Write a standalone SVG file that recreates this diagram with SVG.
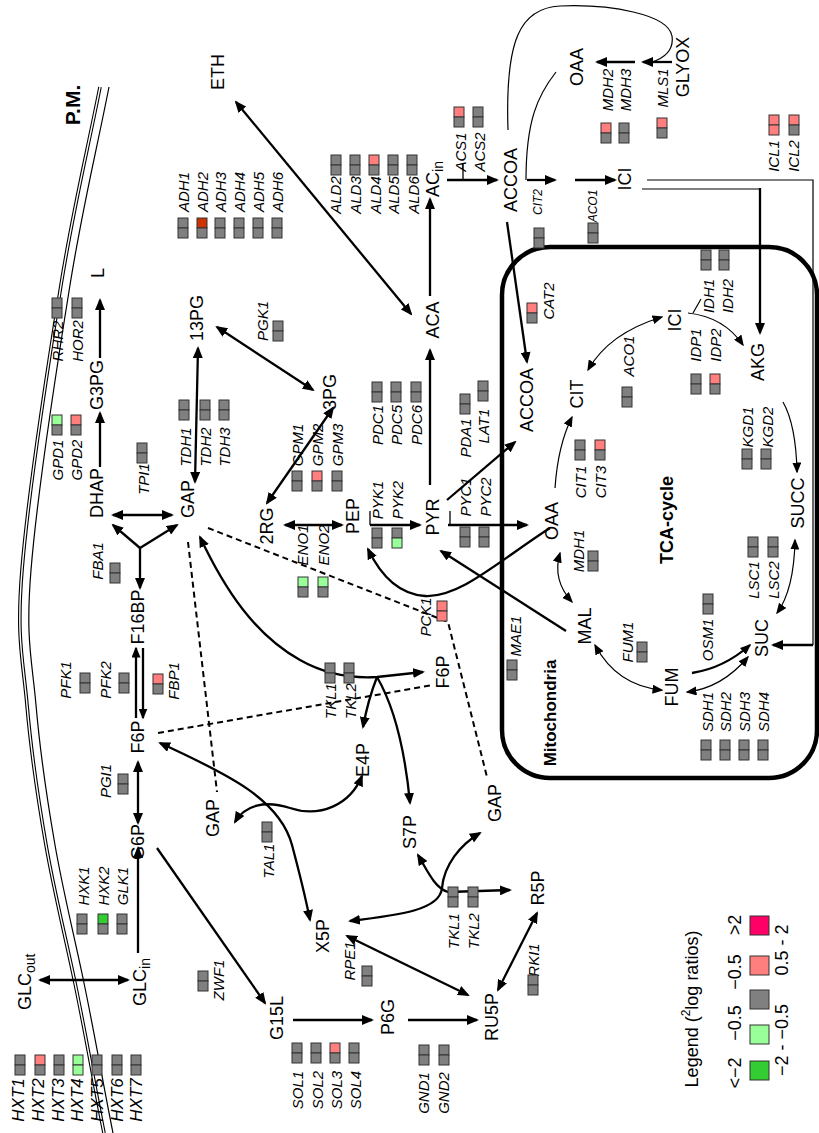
<svg xmlns="http://www.w3.org/2000/svg" width="819" height="1133" viewBox="0 0 819 1133">
<defs>
<style>
text{font-family:"Liberation Sans",Arial,sans-serif;text-anchor:middle;dominant-baseline:central;fill:#000}
.m{font-size:18px}
.g{font-size:15px;font-style:italic}
.gs{font-size:12px;font-style:italic}
.gh{font-size:17px;font-style:italic}
.bd{font-weight:bold}
.e{fill:none;stroke:#000;stroke-width:2.3}
.t{fill:none;stroke:#000;stroke-width:1.2}
.tk{fill:none;stroke:#000;stroke-width:1.3}
.d{fill:none;stroke:#000;stroke-width:2;stroke-dasharray:6 4}
.a1{marker-end:url(#ah)}
.a2{marker-start:url(#ah);marker-end:url(#ah)}
.a0{marker-start:url(#ah)}
.s1{marker-end:url(#as)}
.s2{marker-start:url(#as);marker-end:url(#as)}
.gy{fill:#808080;stroke:#333;stroke-width:1}
.pk{fill:#ff7f7f;stroke:#333;stroke-width:1}
.lg{fill:#99ff99;stroke:#333;stroke-width:1}
.dg{fill:#33cc33;stroke:#333;stroke-width:1}
.rd{fill:#cc3300;stroke:#333;stroke-width:1}
.mg{fill:#ff0066;stroke:#333;stroke-width:1}
</style>
<marker id="ah" viewBox="0 0 12 10" refX="10" refY="5" markerWidth="12" markerHeight="10" markerUnits="userSpaceOnUse" orient="auto-start-reverse"><path d="M0,0L12,5L0,10z"/></marker>
<marker id="as" viewBox="0 0 11 9" refX="9.5" refY="4.5" markerWidth="11" markerHeight="9" markerUnits="userSpaceOnUse" orient="auto-start-reverse"><path d="M0,0L11,4.5L0,9z"/></marker>
<path id="mem" d="M100,87 C87,153 74,204.5 61,285 C48,365.5 27.7,500 22,570 C16.3,640 23,659 27,705 C31,751 38,799 46,845 C54,891 65,935 75,983 C85,1031 94,1083 104,1133"/>
</defs>
<rect width="819" height="1133" fill="#fff"/>

<g id="membrane">
<use href="#mem" fill="none" stroke="#000" stroke-width="3.6"/>
<use href="#mem" fill="none" stroke="#fff" stroke-width="1.4"/>
<use href="#mem" fill="none" stroke="#000" stroke-width="1.2" transform="translate(9,0)"/>
<text class="bd" style="font-size:21px" transform="translate(72,105) rotate(-90)">P.M.</text>
</g>

<g id="mitochondria">
<rect x="502" y="247" width="315" height="531" rx="48" fill="none" stroke="#000" stroke-width="4.5"/>
<text class="bd" style="font-size:17px" transform="translate(550,713) rotate(-90)">Mitochondria</text>
<text class="bd" style="font-size:18px" transform="translate(667,520) rotate(-90)">TCA-cycle</text>
</g>

<g id="connectors">
<path class="e a2" d="M236,102 L411,314"/>
<path class="e a1" d="M430,296 V199"/>
<path class="e a1" d="M447,180 H497"/>
<path class="tk" d="M463,164 V180"/>
<path class="e a1" d="M527,180 H555"/>
<path class="e a1" d="M575,180 H615"/>
<path class="t" d="M508,130 C505,40 520,8 560,6 C610,4 668,14 672,36 C674,50 664,58 652,62"/>
<path class="t" d="M526,180 C526,120 538,95 556,72"/>
<path class="e a1" d="M672,62 H643"/>
<path class="e a1" d="M635,62 H597"/>
<path class="t" d="M642,189 H760"/>
<path class="e a1" d="M760,188 V333"/>
<path class="t" d="M647,180 H813 V645"/>
<path class="e a1" d="M813,645 H773"/>
<path class="e a1" d="M430,485 V350"/>
<path class="e a1" d="M447,500 L515,442"/>
<path class="e a1" d="M507,222 L527,362"/>
<path class="e a2" d="M195,482 L198,348"/>
<path class="e a2" d="M113,515 H172"/>
<path class="e a1" d="M100,467 V413"/>
<path class="e a1" d="M100,358 V300"/>
<path class="e a0" d="M140,588 V548"/>
<path class="e a1" d="M140,548 L113,525"/>
<path class="e a1" d="M140,548 L177,525"/>
<path class="e s1" d="M136,718 V648"/>
<path class="e s1" d="M143,648 V718"/>
<path class="e a2" d="M138,762 V823"/>
<path class="e a1" d="M138,953 V848"/>
<path class="e a2" d="M40,980 H128"/>
<path class="e a1" d="M157,848 L265,1003"/>
<path class="e a1" d="M293,1020 H372"/>
<path class="e a1" d="M408,1020 H477"/>
<path class="e a2" d="M347,936 L468,995"/>
<path class="e a2" d="M498,990 L537,913"/>
<path class="e a2" d="M217,327 L313,390"/>
<path class="e a2" d="M333,408 L267,503"/>
<path class="e a2" d="M285,525 H342"/>
<path class="e a1" d="M370,525 H420"/>
<path class="tk" d="M370,511 V525"/>
<path class="e a1" d="M448,525 H527"/>
<path class="tk" d="M450,511 V525"/>
<path class="e a1" d="M550,528 C500,560 460,598 425,596 C395,594 378,570 368,549"/>
<path class="e a1" d="M566,631 L441,551"/>
<path class="t s1" d="M555,488 Q558,445 572,417"/>
<path class="t s2" d="M588,370 Q609,333 662,317"/>
<path class="t s1" d="M688,313 Q724,317 743,345"/>
<path class="t" d="M693,313 L701,299"/>
<path class="t s1" d="M783,402 Q796,425 797,472"/>
<path class="t s2" d="M795,540 Q794,590 777,613"/>
<path class="t s2" d="M748,657 Q722,688 687,692"/>
<path class="e s1" d="M692,673 Q724,668 750,645"/>
<path class="t s2" d="M662,690 Q617,686 595,645"/>
<path class="t s2" d="M572,602 Q552,580 560,553"/>
<path class="e a2" d="M200,537 C225,590 255,635 300,660 C330,677 360,678 377,677 L423,672"/>
<path class="e a1" d="M377,677 Q368,700 363,727"/>
<path class="e a1" d="M377,677 Q402,720 410,803"/>
<path class="e a2" d="M235,822 C245,805 265,800 290,808 C320,818 350,805 362,776"/>
<path class="e a2" d="M160,743 C230,775 280,800 292,845 C300,875 305,895 310,920"/>
<path class="e a2" d="M350,921 C400,915 440,910 442,888 C444,865 460,845 480,833"/>
<path class="e a2" d="M418,855 C428,872 435,888 448,892 L510,890"/>
<path class="d" d="M188,542 L217,792"/>
<path class="d" d="M208,528 L448,622 L487,777"/>
<path class="d" d="M158,733 L433,685"/>
</g>

<g id="metabolites">
<g id="n-ETH"><text class="m" transform="translate(218,72) rotate(-90)">ETH</text></g>
<g id="n-L"><text class="m" transform="translate(98,273) rotate(-90)">L</text></g>
<g id="n-G3PG"><text class="m" transform="translate(97,385) rotate(-90)">G3PG</text></g>
<g id="n-DHAP"><text class="m" transform="translate(97,493) rotate(-90)">DHAP</text></g>
<g id="n-GAP1"><text class="m" transform="translate(188,499) rotate(-90)">GAP</text></g>
<g id="n-13PG"><text class="m" transform="translate(197,318) rotate(-90)">13PG</text></g>
<g id="n-3PG"><text class="m" transform="translate(330,392) rotate(-90)">3PG</text></g>
<g id="n-2RG"><text class="m" transform="translate(267,526) rotate(-90)">2RG</text></g>
<g id="n-PEP"><text class="m" transform="translate(353,516) rotate(-90)">PEP</text></g>
<g id="n-ACA"><text class="m" transform="translate(433,320) rotate(-90)">ACA</text></g>
<g id="n-ACin"><text class="m" style="text-anchor:start" transform="translate(433,197) rotate(-90)">AC<tspan dy="5" style="font-size:14px">in</tspan></text></g>
<g id="n-ACCOA1"><text class="m" transform="translate(511,180) rotate(-90)">ACCOA</text></g>
<g id="n-PYR"><text class="m" transform="translate(433,517) rotate(-90)">PYR</text></g>
<g id="n-ACCOA2"><text class="m" transform="translate(527,400) rotate(-90)">ACCOA</text></g>
<g id="n-OAA2"><text class="m" transform="translate(552,521) rotate(-90)">OAA</text></g>
<g id="n-CIT"><text class="m" transform="translate(577,394) rotate(-90)">CIT</text></g>
<g id="n-ICI2"><text class="m" transform="translate(675,320) rotate(-90)">ICI</text></g>
<g id="n-AKG"><text class="m" transform="translate(758,362) rotate(-90)">AKG</text></g>
<g id="n-SUCC"><text class="m" transform="translate(798,503) rotate(-90)">SUCC</text></g>
<g id="n-SUC"><text class="m" transform="translate(762,638) rotate(-90)">SUC</text></g>
<g id="n-FUM"><text class="m" transform="translate(672,687) rotate(-90)">FUM</text></g>
<g id="n-MAL"><text class="m" transform="translate(585,626) rotate(-90)">MAL</text></g>
<g id="n-OAA1"><text class="m" transform="translate(577,67) rotate(-90)">OAA</text></g>
<g id="n-GLYOX"><text class="m" transform="translate(683,67) rotate(-90)">GLYOX</text></g>
<g id="n-ICI1"><text class="m" transform="translate(625,179) rotate(-90)">ICI</text></g>
<g id="n-F16BP"><text class="m" transform="translate(138,617) rotate(-90)">F16BP</text></g>
<g id="n-F6P1"><text class="m" transform="translate(138,737) rotate(-90)">F6P</text></g>
<g id="n-G6P"><text class="m" transform="translate(138,842) rotate(-90)">G6P</text></g>
<g id="n-GAP2"><text class="m" transform="translate(213,818) rotate(-90)">GAP</text></g>
<g id="n-F6P2"><text class="m" transform="translate(443,672) rotate(-90)">F6P</text></g>
<g id="n-E4P"><text class="m" transform="translate(363,760) rotate(-90)">E4P</text></g>
<g id="n-S7P"><text class="m" transform="translate(410,832) rotate(-90)">S7P</text></g>
<g id="n-GAP3"><text class="m" transform="translate(495,803) rotate(-90)">GAP</text></g>
<g id="n-X5P"><text class="m" transform="translate(323,936) rotate(-90)">X5P</text></g>
<g id="n-R5P"><text class="m" transform="translate(538,888) rotate(-90)">R5P</text></g>
<g id="n-RU5P"><text class="m" transform="translate(492,1017) rotate(-90)">RU5P</text></g>
<g id="n-G15L"><text class="m" transform="translate(277,1018) rotate(-90)">G15L</text></g>
<g id="n-P6G"><text class="m" transform="translate(388,1017) rotate(-90)">P6G</text></g>
<g id="n-GLCout"><text class="m" style="text-anchor:start" transform="translate(25,1010) rotate(-90)">GLC<tspan dy="5" style="font-size:14px">out</tspan></text></g>
<g id="n-GLCin"><text class="m" style="text-anchor:start" transform="translate(140,1006) rotate(-90)">GLC<tspan dy="5" style="font-size:14px">in</tspan></text></g>
</g>

<g id="genes">
<g id="g-ADH1"><text class="g" transform="translate(183,192) rotate(-90)">ADH1</text><rect class="gy" x="178" y="218" width="10" height="10"/><rect class="gy" x="178" y="228" width="10" height="10"/></g>
<g id="g-ADH2"><text class="g" transform="translate(202,192) rotate(-90)">ADH2</text><rect class="rd" x="197" y="218" width="10" height="10"/><rect class="gy" x="197" y="228" width="10" height="10"/></g>
<g id="g-ADH3"><text class="g" transform="translate(220,192) rotate(-90)">ADH3</text><rect class="gy" x="215" y="218" width="10" height="10"/><rect class="gy" x="215" y="228" width="10" height="10"/></g>
<g id="g-ADH4"><text class="g" transform="translate(239,192) rotate(-90)">ADH4</text><rect class="gy" x="234" y="218" width="10" height="10"/><rect class="gy" x="234" y="228" width="10" height="10"/></g>
<g id="g-ADH5"><text class="g" transform="translate(258,192) rotate(-90)">ADH5</text><rect class="gy" x="253" y="218" width="10" height="10"/><rect class="gy" x="253" y="228" width="10" height="10"/></g>
<g id="g-ADH6"><text class="g" transform="translate(277,192) rotate(-90)">ADH6</text><rect class="gy" x="272" y="218" width="10" height="10"/><rect class="gy" x="272" y="228" width="10" height="10"/></g>
<g id="g-ALD2"><text class="g" transform="translate(335,195) rotate(-90)">ALD2</text><rect class="gy" x="331" y="155" width="10" height="10"/><rect class="gy" x="331" y="165" width="10" height="10"/></g>
<g id="g-ALD3"><text class="g" transform="translate(355,195) rotate(-90)">ALD3</text><rect class="gy" x="350" y="155" width="10" height="10"/><rect class="gy" x="350" y="165" width="10" height="10"/></g>
<g id="g-ALD4"><text class="g" transform="translate(375,195) rotate(-90)">ALD4</text><rect class="pk" x="369" y="155" width="10" height="10"/><rect class="gy" x="369" y="165" width="10" height="10"/></g>
<g id="g-ALD5"><text class="g" transform="translate(393,195) rotate(-90)">ALD5</text><rect class="gy" x="388" y="155" width="10" height="10"/><rect class="gy" x="388" y="165" width="10" height="10"/></g>
<g id="g-ALD6"><text class="g" transform="translate(413,195) rotate(-90)">ALD6</text><rect class="gy" x="407" y="155" width="10" height="10"/><rect class="gy" x="407" y="165" width="10" height="10"/></g>
<g id="g-ACS1"><text class="g" transform="translate(460,152) rotate(-90)">ACS1</text><rect class="pk" x="454" y="107" width="10" height="10"/><rect class="gy" x="454" y="117" width="10" height="10"/></g>
<g id="g-ACS2"><text class="g" transform="translate(479,152) rotate(-90)">ACS2</text><rect class="gy" x="473" y="107" width="10" height="10"/><rect class="gy" x="473" y="117" width="10" height="10"/></g>
<g id="g-CIT2"><text class="gs" transform="translate(538,202) rotate(-90)">CIT2</text><rect class="gy" x="534" y="228" width="10" height="10"/><rect class="gy" x="534" y="238" width="10" height="10"/></g>
<g id="g-ACO1-c"><text class="gs" transform="translate(593,206) rotate(-90)">ACO1</text><rect class="gy" x="588" y="223" width="10" height="10"/><rect class="gy" x="588" y="233" width="10" height="10"/></g>
<g id="g-MDH2"><text class="g" transform="translate(607,90) rotate(-90)">MDH2</text><rect class="pk" x="601" y="123" width="10" height="10"/><rect class="gy" x="601" y="133" width="10" height="10"/></g>
<g id="g-MDH3"><text class="g" transform="translate(625,90) rotate(-90)">MDH3</text><rect class="gy" x="619" y="123" width="10" height="10"/><rect class="gy" x="619" y="133" width="10" height="10"/></g>
<g id="g-MLS1"><text class="g" transform="translate(662,88) rotate(-90)">MLS1</text><rect class="pk" x="657" y="118" width="10" height="10"/><rect class="gy" x="657" y="128" width="10" height="10"/></g>
<g id="g-ICL1"><text class="g" transform="translate(773,156) rotate(-90)">ICL1</text><rect class="pk" x="769" y="115" width="10" height="10"/><rect class="pk" x="769" y="125" width="10" height="10"/></g>
<g id="g-ICL2"><text class="g" transform="translate(793,156) rotate(-90)">ICL2</text><rect class="pk" x="789" y="115" width="10" height="10"/><rect class="gy" x="789" y="125" width="10" height="10"/></g>
<g id="g-IDH1"><text class="g" transform="translate(708,296) rotate(-90)">IDH1</text><rect class="gy" x="701" y="250" width="10" height="10"/><rect class="gy" x="701" y="260" width="10" height="10"/></g>
<g id="g-IDH2"><text class="g" transform="translate(727,296) rotate(-90)">IDH2</text><rect class="gy" x="719" y="250" width="10" height="10"/><rect class="gy" x="719" y="260" width="10" height="10"/></g>
<g id="g-IDP1"><text class="g" transform="translate(695,345) rotate(-90)">IDP1</text><rect class="gy" x="691" y="374" width="10" height="10"/><rect class="gy" x="691" y="384" width="10" height="10"/></g>
<g id="g-IDP2"><text class="g" transform="translate(715,345) rotate(-90)">IDP2</text><rect class="pk" x="710" y="374" width="10" height="10"/><rect class="gy" x="710" y="384" width="10" height="10"/></g>
<g id="g-ACO1-m"><text class="g" transform="translate(628,356) rotate(-90)">ACO1</text><rect class="gy" x="622" y="387" width="10" height="10"/><rect class="gy" x="622" y="397" width="10" height="10"/></g>
<g id="g-CAT2"><text class="g" transform="translate(548,301) rotate(-90)">CAT2</text><rect class="pk" x="527" y="303" width="10" height="10"/><rect class="gy" x="527" y="313" width="10" height="10"/></g>
<g id="g-KGD1"><text class="g" transform="translate(747,427) rotate(-90)">KGD1</text><rect class="gy" x="742" y="449" width="10" height="10"/><rect class="gy" x="742" y="459" width="10" height="10"/></g>
<g id="g-KGD2"><text class="g" transform="translate(767,427) rotate(-90)">KGD2</text><rect class="gy" x="761" y="449" width="10" height="10"/><rect class="gy" x="761" y="459" width="10" height="10"/></g>
<g id="g-CIT1"><text class="g" transform="translate(580,482) rotate(-90)">CIT1</text><rect class="gy" x="575" y="440" width="10" height="10"/><rect class="gy" x="575" y="450" width="10" height="10"/></g>
<g id="g-CIT3"><text class="g" transform="translate(600,482) rotate(-90)">CIT3</text><rect class="pk" x="595" y="440" width="10" height="10"/><rect class="gy" x="595" y="450" width="10" height="10"/></g>
<g id="g-MDH1"><text class="g" transform="translate(578,551) rotate(-90)">MDH1</text><rect class="gy" x="588" y="551" width="10" height="10"/><rect class="gy" x="588" y="561" width="10" height="10"/></g>
<g id="g-LSC1"><text class="g" transform="translate(753,580) rotate(-90)">LSC1</text><rect class="gy" x="748" y="537" width="10" height="10"/><rect class="gy" x="748" y="547" width="10" height="10"/></g>
<g id="g-LSC2"><text class="g" transform="translate(773,580) rotate(-90)">LSC2</text><rect class="gy" x="768" y="537" width="10" height="10"/><rect class="gy" x="768" y="547" width="10" height="10"/></g>
<g id="g-FUM1"><text class="g" transform="translate(627,642) rotate(-90)">FUM1</text><rect class="gy" x="637" y="642" width="10" height="10"/><rect class="gy" x="637" y="652" width="10" height="10"/></g>
<g id="g-OSM1"><text class="g" transform="translate(707,640) rotate(-90)">OSM1</text><rect class="gy" x="703" y="594" width="10" height="10"/><rect class="gy" x="703" y="604" width="10" height="10"/></g>
<g id="g-SDH1"><text class="g" transform="translate(707,712) rotate(-90)">SDH1</text><rect class="gy" x="701" y="740" width="10" height="10"/><rect class="gy" x="701" y="750" width="10" height="10"/></g>
<g id="g-SDH2"><text class="g" transform="translate(725,712) rotate(-90)">SDH2</text><rect class="gy" x="720" y="740" width="10" height="10"/><rect class="gy" x="720" y="750" width="10" height="10"/></g>
<g id="g-SDH3"><text class="g" transform="translate(744,712) rotate(-90)">SDH3</text><rect class="gy" x="739" y="740" width="10" height="10"/><rect class="gy" x="739" y="750" width="10" height="10"/></g>
<g id="g-SDH4"><text class="g" transform="translate(763,712) rotate(-90)">SDH4</text><rect class="gy" x="758" y="740" width="10" height="10"/><rect class="gy" x="758" y="750" width="10" height="10"/></g>
<g id="g-MAE1"><text class="g" transform="translate(515,636) rotate(-90)">MAE1</text><rect class="gy" x="507" y="660" width="10" height="10"/><rect class="gy" x="507" y="670" width="10" height="10"/></g>
<g id="g-PCK1"><text class="g" transform="translate(425,617) rotate(-90)">PCK1</text><rect class="pk" x="437" y="601" width="10" height="10"/><rect class="pk" x="437" y="611" width="10" height="10"/></g>
<g id="g-RHR2"><text class="g" transform="translate(57,341) rotate(-90)">RHR2</text><rect class="gy" x="52" y="298" width="10" height="10"/><rect class="gy" x="52" y="308" width="10" height="10"/></g>
<g id="g-HOR2"><text class="g" transform="translate(77,341) rotate(-90)">HOR2</text><rect class="gy" x="72" y="298" width="10" height="10"/><rect class="gy" x="72" y="308" width="10" height="10"/></g>
<g id="g-GPD1"><text class="g" transform="translate(57,460) rotate(-90)">GPD1</text><rect class="lg" x="52" y="415" width="10" height="10"/><rect class="gy" x="52" y="425" width="10" height="10"/></g>
<g id="g-GPD2"><text class="g" transform="translate(76,460) rotate(-90)">GPD2</text><rect class="pk" x="71" y="415" width="10" height="10"/><rect class="gy" x="71" y="425" width="10" height="10"/></g>
<g id="g-TPI1"><text class="g" transform="translate(143,479) rotate(-90)">TPI1</text><rect class="gy" x="137" y="443" width="10" height="10"/><rect class="gy" x="137" y="453" width="10" height="10"/></g>
<g id="g-TDH1"><text class="g" transform="translate(185,447) rotate(-90)">TDH1</text><rect class="gy" x="179" y="400" width="10" height="10"/><rect class="gy" x="179" y="410" width="10" height="10"/></g>
<g id="g-TDH2"><text class="g" transform="translate(205,447) rotate(-90)">TDH2</text><rect class="gy" x="200" y="400" width="10" height="10"/><rect class="gy" x="200" y="410" width="10" height="10"/></g>
<g id="g-TDH3"><text class="g" transform="translate(224,447) rotate(-90)">TDH3</text><rect class="gy" x="219" y="400" width="10" height="10"/><rect class="gy" x="219" y="410" width="10" height="10"/></g>
<g id="g-PGK1"><text class="g" transform="translate(262,321) rotate(-90)">PGK1</text><rect class="gy" x="273" y="321" width="10" height="10"/><rect class="gy" x="273" y="331" width="10" height="10"/></g>
<g id="g-GPM1"><text class="g" transform="translate(297,445) rotate(-90)">GPM1</text><rect class="gy" x="292" y="471" width="10" height="10"/><rect class="gy" x="292" y="481" width="10" height="10"/></g>
<g id="g-GPM2"><text class="g" transform="translate(317,445) rotate(-90)">GPM2</text><rect class="pk" x="312" y="471" width="10" height="10"/><rect class="gy" x="312" y="481" width="10" height="10"/></g>
<g id="g-GPM3"><text class="g" transform="translate(337,445) rotate(-90)">GPM3</text><rect class="gy" x="332" y="471" width="10" height="10"/><rect class="gy" x="332" y="481" width="10" height="10"/></g>
<g id="g-PDC1"><text class="g" transform="translate(377,425) rotate(-90)">PDC1</text><rect class="gy" x="372" y="382" width="10" height="10"/><rect class="gy" x="372" y="392" width="10" height="10"/></g>
<g id="g-PDC5"><text class="g" transform="translate(396,425) rotate(-90)">PDC5</text><rect class="gy" x="391" y="382" width="10" height="10"/><rect class="gy" x="391" y="392" width="10" height="10"/></g>
<g id="g-PDC6"><text class="g" transform="translate(416,425) rotate(-90)">PDC6</text><rect class="gy" x="411" y="382" width="10" height="10"/><rect class="gy" x="411" y="392" width="10" height="10"/></g>
<g id="g-PDA1"><text class="g" transform="translate(465,438) rotate(-90)">PDA1</text><rect class="gy" x="460" y="394" width="10" height="10"/><rect class="gy" x="460" y="404" width="10" height="10"/></g>
<g id="g-LAT1"><text class="g" transform="translate(483,426) rotate(-90)">LAT1</text><rect class="gy" x="478" y="381" width="10" height="10"/><rect class="gy" x="478" y="391" width="10" height="10"/></g>
<g id="g-ENO1"><text class="g" transform="translate(302,545) rotate(-90)">ENO1</text><rect class="lg" x="298" y="577" width="10" height="10"/><rect class="gy" x="298" y="587" width="10" height="10"/></g>
<g id="g-ENO2"><text class="g" transform="translate(323,545) rotate(-90)">ENO2</text><rect class="lg" x="318" y="577" width="10" height="10"/><rect class="gy" x="318" y="587" width="10" height="10"/></g>
<g id="g-PYK1"><text class="g" transform="translate(377,500) rotate(-90)">PYK1</text><rect class="gy" x="372" y="528" width="10" height="10"/><rect class="gy" x="372" y="538" width="10" height="10"/></g>
<g id="g-PYK2"><text class="g" transform="translate(397,500) rotate(-90)">PYK2</text><rect class="gy" x="392" y="528" width="10" height="10"/><rect class="lg" x="392" y="538" width="10" height="10"/></g>
<g id="g-PYC1"><text class="g" transform="translate(465,497) rotate(-90)">PYC1</text><rect class="gy" x="460" y="527" width="10" height="10"/><rect class="gy" x="460" y="537" width="10" height="10"/></g>
<g id="g-PYC2"><text class="g" transform="translate(485,497) rotate(-90)">PYC2</text><rect class="gy" x="479" y="527" width="10" height="10"/><rect class="gy" x="479" y="537" width="10" height="10"/></g>
<g id="g-FBA1"><text class="g" transform="translate(97,561) rotate(-90)">FBA1</text><rect class="gy" x="110" y="563" width="10" height="10"/><rect class="gy" x="110" y="573" width="10" height="10"/></g>
<g id="g-PFK1"><text class="g" transform="translate(65,680) rotate(-90)">PFK1</text><rect class="gy" x="80" y="673" width="10" height="10"/><rect class="gy" x="80" y="683" width="10" height="10"/></g>
<g id="g-PFK2"><text class="g" transform="translate(105,680) rotate(-90)">PFK2</text><rect class="gy" x="119" y="673" width="10" height="10"/><rect class="gy" x="119" y="683" width="10" height="10"/></g>
<g id="g-FBP1"><text class="g" transform="translate(173,681) rotate(-90)">FBP1</text><rect class="pk" x="153" y="674" width="10" height="10"/><rect class="gy" x="153" y="684" width="10" height="10"/></g>
<g id="g-PGI1"><text class="g" transform="translate(105,781) rotate(-90)">PGI1</text><rect class="gy" x="118" y="774" width="10" height="10"/><rect class="gy" x="118" y="784" width="10" height="10"/></g>
<g id="g-TKL1-a"><text class="g" transform="translate(330,701) rotate(-90)">TKL1</text><rect class="gy" x="325" y="663" width="10" height="10"/><rect class="gy" x="325" y="673" width="10" height="10"/></g>
<g id="g-TKL2-a"><text class="g" transform="translate(350,701) rotate(-90)">TKL2</text><rect class="gy" x="344" y="663" width="10" height="10"/><rect class="gy" x="344" y="673" width="10" height="10"/></g>
<g id="g-TAL1"><text class="g" transform="translate(268,861) rotate(-90)">TAL1</text><rect class="gy" x="262" y="822" width="10" height="10"/><rect class="gy" x="262" y="832" width="10" height="10"/></g>
<g id="g-TKL1-b"><text class="g" transform="translate(453,931) rotate(-90)">TKL1</text><rect class="gy" x="448" y="887" width="10" height="10"/><rect class="gy" x="448" y="897" width="10" height="10"/></g>
<g id="g-TKL2-b"><text class="g" transform="translate(473,931) rotate(-90)">TKL2</text><rect class="gy" x="468" y="887" width="10" height="10"/><rect class="gy" x="468" y="897" width="10" height="10"/></g>
<g id="g-RPE1"><text class="g" transform="translate(349,961) rotate(-90)">RPE1</text><rect class="gy" x="362" y="966" width="10" height="10"/><rect class="gy" x="362" y="976" width="10" height="10"/></g>
<g id="g-RKI1"><text class="g" transform="translate(533,960) rotate(-90)">RKI1</text><rect class="gy" x="528" y="975" width="10" height="10"/><rect class="gy" x="528" y="985" width="10" height="10"/></g>
<g id="g-ZWF1"><text class="g" transform="translate(218,980) rotate(-90)">ZWF1</text><rect class="gy" x="198" y="971" width="10" height="10"/><rect class="gy" x="198" y="981" width="10" height="10"/></g>
<g id="g-HXK1"><text class="g" transform="translate(83,886) rotate(-90)">HXK1</text><rect class="gy" x="77" y="914" width="10" height="10"/><rect class="gy" x="77" y="924" width="10" height="10"/></g>
<g id="g-HXK2"><text class="g" transform="translate(103,886) rotate(-90)">HXK2</text><rect class="dg" x="98" y="914" width="10" height="10"/><rect class="gy" x="98" y="924" width="10" height="10"/></g>
<g id="g-GLK1"><text class="g" transform="translate(122,886) rotate(-90)">GLK1</text><rect class="gy" x="117" y="914" width="10" height="10"/><rect class="gy" x="117" y="924" width="10" height="10"/></g>
<g id="g-SOL1"><text class="g" transform="translate(297,1090) rotate(-90)">SOL1</text><rect class="gy" x="292" y="1043" width="10" height="10"/><rect class="gy" x="292" y="1053" width="10" height="10"/></g>
<g id="g-SOL2"><text class="g" transform="translate(317,1090) rotate(-90)">SOL2</text><rect class="gy" x="311" y="1043" width="10" height="10"/><rect class="gy" x="311" y="1053" width="10" height="10"/></g>
<g id="g-SOL3"><text class="g" transform="translate(336,1090) rotate(-90)">SOL3</text><rect class="pk" x="330" y="1043" width="10" height="10"/><rect class="gy" x="330" y="1053" width="10" height="10"/></g>
<g id="g-SOL4"><text class="g" transform="translate(355,1090) rotate(-90)">SOL4</text><rect class="gy" x="349" y="1043" width="10" height="10"/><rect class="gy" x="349" y="1053" width="10" height="10"/></g>
<g id="g-GND1"><text class="g" transform="translate(423,1093) rotate(-90)">GND1</text><rect class="gy" x="419" y="1045" width="10" height="10"/><rect class="gy" x="419" y="1055" width="10" height="10"/></g>
<g id="g-GND2"><text class="g" transform="translate(443,1093) rotate(-90)">GND2</text><rect class="gy" x="439" y="1045" width="10" height="10"/><rect class="gy" x="439" y="1055" width="10" height="10"/></g>
<g id="g-HXT1"><text class="gh" transform="translate(18,1100) rotate(-90)">HXT1</text><rect class="gy" x="15" y="1055" width="10" height="10"/><rect class="gy" x="15" y="1065" width="10" height="10"/></g>
<g id="g-HXT2"><text class="gh" transform="translate(38,1100) rotate(-90)">HXT2</text><rect class="pk" x="35" y="1055" width="10" height="10"/><rect class="gy" x="35" y="1065" width="10" height="10"/></g>
<g id="g-HXT3"><text class="gh" transform="translate(58,1100) rotate(-90)">HXT3</text><rect class="gy" x="54" y="1055" width="10" height="10"/><rect class="gy" x="54" y="1065" width="10" height="10"/></g>
<g id="g-HXT4"><text class="gh" transform="translate(77,1100) rotate(-90)">HXT4</text><rect class="lg" x="73" y="1055" width="10" height="10"/><rect class="lg" x="73" y="1065" width="10" height="10"/></g>
<g id="g-HXT5"><text class="gh" transform="translate(97,1100) rotate(-90)">HXT5</text><rect class="gy" x="92" y="1055" width="10" height="10"/><rect class="gy" x="92" y="1065" width="10" height="10"/></g>
<g id="g-HXT6"><text class="gh" transform="translate(117,1100) rotate(-90)">HXT6</text><rect class="gy" x="112" y="1055" width="10" height="10"/><rect class="gy" x="112" y="1065" width="10" height="10"/></g>
<g id="g-HXT7"><text class="gh" transform="translate(136,1100) rotate(-90)">HXT7</text><rect class="gy" x="131" y="1055" width="10" height="10"/><rect class="gy" x="131" y="1065" width="10" height="10"/></g>
</g>

<g id="legend">
<text class="m" transform="translate(692,1009) rotate(-90)">Legend (<tspan dy="-6" style="font-size:12px">2</tspan><tspan dy="6">log ratios)</tspan></text>
<text class="m" transform="translate(735,1073) rotate(-90)">&lt;−2</text>
<text class="m" transform="translate(735,1023) rotate(-90)">−0.5</text>
<text class="m" transform="translate(735,972) rotate(-90)">−0.5</text>
<text class="m" transform="translate(735,925) rotate(-90)">&gt;2</text>
<rect class="dg" x="750" y="1061" width="19" height="19"/>
<rect class="lg" x="750" y="1025" width="19" height="19"/>
<rect class="gy" x="750" y="990" width="19" height="19"/>
<rect class="pk" x="750" y="956" width="19" height="19"/>
<rect class="mg" x="750" y="916" width="19" height="19"/>
<text class="m" transform="translate(782,1040) rotate(-90)">−2 - −0.5</text>
<text class="m" transform="translate(782,950) rotate(-90)">0.5 - 2</text>
</g>
</svg>
